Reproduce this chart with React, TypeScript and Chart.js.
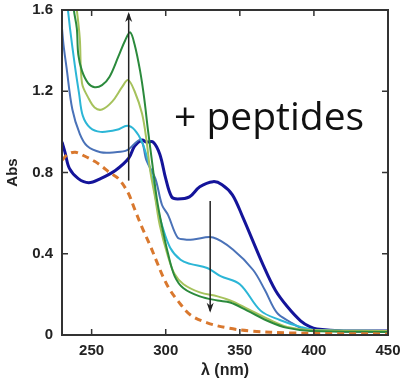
import React, { useEffect, useRef } from "react";
import { Chart, registerables } from "chart.js";

Chart.register(...registerables);

// wavelengths (nm) and absorbance values
const navyX = [230, 232, 235, 241, 248, 256, 266, 275, 279, 284, 287, 291.5, 296, 300, 304, 308, 316, 323, 332, 338, 345, 352, 366, 374, 382, 391, 397.5, 402, 420, 450];
const navyY = [0.95, 0.9, 0.82, 0.77, 0.75, 0.77, 0.81, 0.87, 0.93, 0.96, 0.95, 0.95, 0.89, 0.77, 0.68, 0.67, 0.68, 0.73, 0.755, 0.74, 0.69, 0.58, 0.34, 0.22, 0.14, 0.07, 0.04, 0.03, 0.02, 0.02];

const steelX = [230, 231, 233, 237, 242, 247, 256, 266, 274, 283, 287, 293, 297.5, 301.6, 308, 313, 318.5, 332, 345.5, 359, 367, 375, 384, 391, 397.5, 420, 450];
const steelY = [1.51, 1.43, 1.32, 1.11, 0.99, 0.93, 0.9, 0.9, 0.91, 0.96, 0.86, 0.77, 0.64, 0.59, 0.48, 0.47, 0.47, 0.48, 0.42, 0.32, 0.22, 0.11, 0.064, 0.035, 0.025, 0.02, 0.02];

const cyanX = [232, 234, 235.4, 238.8, 241.5, 244, 249, 256, 267, 274, 279, 284, 288, 291, 294, 297.5, 303, 310, 316.5, 328, 337, 350, 364, 377, 391, 401, 450];
const cyanY = [1.7, 1.6, 1.51, 1.32, 1.19, 1.08, 1.02, 1.0, 1.01, 1.03, 1.01, 0.95, 0.86, 0.77, 0.64, 0.54, 0.43, 0.37, 0.35, 0.33, 0.29, 0.25, 0.12, 0.074, 0.04, 0.025, 0.02];

const lightGreenX = [238, 240, 242, 243.5, 247.6, 252, 257, 264, 270.5, 274.6, 279, 284, 287, 289.5, 293, 296, 301, 306, 312, 323, 335, 343.5, 355, 370.5, 382, 397.5, 450];
const lightGreenY = [1.7, 1.6, 1.46, 1.24, 1.17, 1.12, 1.11, 1.15, 1.22, 1.255, 1.2, 1.09, 0.96, 0.81, 0.67, 0.54, 0.4, 0.3, 0.25, 0.21, 0.19, 0.17, 0.13, 0.074, 0.04, 0.025, 0.02];

const darkGreenX = [237, 238, 240, 241, 243.5, 247.6, 252, 257, 262, 268, 272.6, 276, 279, 282.7, 285.4, 288, 291, 294, 297.6, 301.6, 306, 312, 323, 335, 343.5, 355, 370.5, 382, 397.5, 450];
const darkGreenY = [1.7, 1.6, 1.51, 1.38, 1.3, 1.24, 1.22, 1.23, 1.27, 1.37, 1.45, 1.49, 1.43, 1.3, 1.17, 1.01, 0.84, 0.67, 0.53, 0.4, 0.29, 0.23, 0.19, 0.17, 0.16, 0.12, 0.064, 0.035, 0.02, 0.015];

const orangeX = [230, 234, 239, 245.5, 252, 257, 262, 268, 274.6, 279, 284, 289.5, 294, 298, 303, 308, 316.5, 328, 341.5, 357, 384, 450];
const orangeY = [0.86, 0.89, 0.9, 0.88, 0.855, 0.83, 0.8, 0.77, 0.7, 0.62, 0.53, 0.44, 0.36, 0.29, 0.22, 0.17, 0.1, 0.06, 0.035, 0.02, 0.01, 0.005];

// arrows: [wavelength, from, to]
const arrowUp = [275, 0.76, 1.58];
const arrowDown = [330, 0.66, 0.12];

const xTicks = [250, 300, 350, 400, 450];
const yTicks = [0, 0.4, 0.8, 1.2, 1.6];

const pts = (xs: number[], ys: number[]) => xs.map((x, i) => ({ x, y: ys[i] }));

const overlay = {
  id: "overlay",
  afterDatasetsDraw(chart: any) {
    const { ctx, chartArea: a, scales } = chart;
    const xs = scales.x, ys = scales.y;
    ctx.save();
    // arrows
    ctx.strokeStyle = "#222";
    ctx.fillStyle = "#222";
    ctx.lineWidth = 1.5;
    const drawArrow = (arr: number[]) => {
      const px = xs.getPixelForValue(arr[0]);
      const y0 = ys.getPixelForValue(arr[1]);
      const y1 = ys.getPixelForValue(arr[2]);
      ctx.beginPath();
      ctx.moveTo(px, y0);
      ctx.lineTo(px, y1);
      ctx.stroke();
      const dir = y1 < y0 ? 1 : -1;
      ctx.beginPath();
      ctx.moveTo(px, y1 - dir * 2);
      ctx.lineTo(px - 3.5, y1 + dir * 8);
      ctx.lineTo(px, y1 + dir * 5);
      ctx.lineTo(px + 3.5, y1 + dir * 8);
      ctx.closePath();
      ctx.fill();
    };
    drawArrow(arrowUp);
    drawArrow(arrowDown);
    // frame
    ctx.strokeStyle = "#333";
    ctx.lineWidth = 2;
    ctx.strokeRect(a.left, a.top, a.right - a.left, a.bottom - a.top);
    ctx.lineWidth = 1.5;
    ctx.beginPath();
    for (const t of xTicks) {
      if (t >= 450) continue;
      const px = xs.getPixelForValue(t);
      ctx.moveTo(px, a.bottom);
      ctx.lineTo(px, a.bottom - 6);
      ctx.moveTo(px, a.top);
      ctx.lineTo(px, a.top + 6);
    }
    for (const t of yTicks) {
      if (t <= 0 || t >= 1.6) continue;
      const py = ys.getPixelForValue(t);
      ctx.moveTo(a.left, py);
      ctx.lineTo(a.left + 6, py);
      ctx.moveTo(a.right, py);
      ctx.lineTo(a.right - 6, py);
    }
    ctx.stroke();
    // annotation text
    ctx.fillStyle = "#111";
    ctx.font = '39px "Open Sans"';
    ctx.textBaseline = "alphabetic";
    ctx.textAlign = "left";
    ctx.fillText("+ peptides", 174, 130);
    ctx.restore();
  },
};

export default function App() {
  const ref = useRef<HTMLCanvasElement>(null);
  useEffect(() => {
    if (!ref.current) return;
    const line = (label: string, xs: number[], ys: number[], color: string, width: number, dash: number[] = []) => ({
      label,
      data: pts(xs, ys),
      borderColor: color,
      backgroundColor: color,
      borderWidth: width,
      borderDash: dash,
      pointRadius: 0,
      tension: 0.35,
      fill: false,
    });
    const chart = new Chart(ref.current, {
      type: "line",
      data: {
        datasets: [
          line("free", orangeX, orangeY, "#d9782e", 3, [7, 5]),
          line("s5", darkGreenX, darkGreenY, "#2b8a3c", 2),
          line("s4", lightGreenX, lightGreenY, "#a6c25c", 2),
          line("s3", cyanX, cyanY, "#2cb6d6", 2),
          line("s2", steelX, steelY, "#4a72b8", 2),
          line("s1", navyX, navyY, "#14149a", 3),
        ] as any,
      },
      options: {
        animation: false,
        responsive: false,
        parsing: true,
        layout: { padding: { left: 0, right: 21, top: 10, bottom: 0 } },
        plugins: { legend: { display: false }, tooltip: { enabled: false } },
        scales: {
          x: {
            type: "linear",
            min: 230,
            max: 450,
            afterBuildTicks: (s: any) => { s.ticks = xTicks.map((v) => ({ value: v })); },
            afterFit: (s: any) => { s.height = 46; s.paddingLeft = 0; s.paddingRight = 0; },
            grid: { display: false, drawTicks: false },
            border: { display: false },
            ticks: { padding: 7, color: "#222", font: { family: "Liberation Sans", size: 15, weight: "bold" }, maxRotation: 0 },
            title: { display: true, text: "λ (nm)", color: "#222", font: { family: "Liberation Sans", size: 16, weight: "bold" }, padding: { top: 0, bottom: 1 } },
          },
          y: {
            type: "linear",
            min: 0,
            max: 1.6,
            afterBuildTicks: (s: any) => { s.ticks = yTicks.map((v) => ({ value: v })); },
            afterFit: (s: any) => { s.width = 62; s.paddingTop = 0; s.paddingBottom = 0; },
            grid: { display: false, drawTicks: false },
            border: { display: false },
            ticks: {
              padding: 9,
              color: "#222",
              font: { family: "Liberation Sans", size: 15, weight: "bold" },
              callback: (v: any) => (Number(v) === 0 ? "0" : Number(v).toFixed(1)),
            },
            title: { display: true, text: "Abs", color: "#222", font: { family: "Liberation Sans", size: 15, weight: "bold" }, padding: { top: 4, bottom: 0 } },
          },
        },
      },
      plugins: [overlay],
    });
    return () => chart.destroy();
  }, []);
  return (
    <div style={{ position: "fixed", left: 0, top: 0, width: 409, height: 381, background: "#fff" }}>
      <canvas ref={ref} width={409} height={381} style={{ display: "block" }} />
    </div>
  );
}
